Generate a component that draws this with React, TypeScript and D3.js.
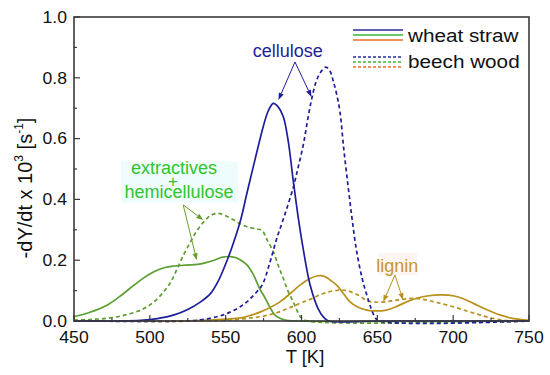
import React from "react";
import * as d3 from "d3";

// ---------- data (T in K, -dY/dt x 10^3 in s^-1) ----------
const wheatCelluloseT = [450, 480, 494, 505, 516, 525, 533.5, 540, 545, 551, 556, 560, 564, 569.3, 574.8, 578, 581.4, 584.5, 588, 591.3, 594.6, 598, 601.2, 605.6, 611, 615, 618, 650, 750];
const wheatCelluloseV = [0, 0, 0.002, 0.008, 0.02, 0.038, 0.063, 0.09, 0.13, 0.2, 0.27, 0.335, 0.42, 0.53, 0.64, 0.69, 0.716, 0.705, 0.672, 0.59, 0.46, 0.335, 0.235, 0.12, 0.04, 0.01, 0, 0, 0];

const beechCelluloseT = [450, 525, 533.5, 545, 551, 558, 564, 569, 574, 579, 583.6, 589, 594.6, 598, 601.2, 604, 606.7, 609.5, 612.2, 616.1, 619, 620.9, 623, 625.3, 628, 630.8, 633.5, 636.4, 640, 643, 646, 648.5, 651, 750];
const beechCelluloseV = [0, 0, 0.004, 0.015, 0.025, 0.042, 0.063, 0.088, 0.118, 0.19, 0.27, 0.35, 0.44, 0.51, 0.58, 0.66, 0.73, 0.785, 0.815, 0.835, 0.82, 0.79, 0.75, 0.69, 0.56, 0.44, 0.33, 0.228, 0.14, 0.086, 0.04, 0.012, 0, 0];

const wheatHemiT = [450, 460, 472, 480, 489.6, 496, 502.7, 510, 516, 524, 531.3, 537, 542.3, 548, 553.3, 557, 560, 564.2, 568, 572.6, 575.5, 579.2, 582, 585.8, 590, 595, 750];
const wheatHemiV = [0.014, 0.028, 0.053, 0.08, 0.118, 0.142, 0.162, 0.176, 0.181, 0.184, 0.186, 0.192, 0.2, 0.21, 0.212, 0.208, 0.2, 0.184, 0.155, 0.105, 0.08, 0.045, 0.022, 0.009, 0.002, 0, 0];

const beechHemiT = [450, 460, 472, 484, 494, 502, 509.3, 514, 518.1, 522, 526.9, 531, 535.7, 540, 544.5, 549, 555.5, 560, 564.2, 570, 574, 577, 581.4, 584.5, 588, 591, 594.6, 597, 600, 604, 750];
const beechHemiV = [0.003, 0.005, 0.009, 0.02, 0.036, 0.06, 0.097, 0.13, 0.173, 0.215, 0.261, 0.297, 0.327, 0.347, 0.354, 0.348, 0.332, 0.318, 0.31, 0.303, 0.298, 0.27, 0.228, 0.185, 0.14, 0.1, 0.063, 0.035, 0.01, 0, 0];

const wheatLigninT = [450, 520, 540, 550, 560, 566, 573, 585.8, 592, 599, 605, 610, 613, 616, 618.8, 623.2, 628, 632, 637, 643, 649.5, 656, 662, 669.3, 676, 684, 691.3, 697, 704, 713.3, 722, 730.8, 740, 748.4, 750];
const wheatLigninV = [0, 0, 0.003, 0.006, 0.01, 0.018, 0.03, 0.063, 0.088, 0.118, 0.138, 0.148, 0.149, 0.145, 0.135, 0.118, 0.088, 0.063, 0.046, 0.036, 0.033, 0.036, 0.046, 0.063, 0.075, 0.083, 0.086, 0.085, 0.078, 0.058, 0.038, 0.02, 0.008, 0.003, 0.002];

const beechLigninT = [450, 540, 555, 565, 572.6, 580, 585.8, 592, 599, 606, 612.2, 618.8, 625.4, 630, 634, 638.6, 643, 648, 655, 662, 669.3, 676, 682.5, 690, 700, 709, 717.6, 725, 733, 740, 750];
const beechLigninV = [0, 0, 0.004, 0.009, 0.014, 0.022, 0.031, 0.043, 0.058, 0.072, 0.086, 0.097, 0.102, 0.1, 0.093, 0.082, 0.067, 0.062, 0.063, 0.068, 0.073, 0.074, 0.069, 0.06, 0.047, 0.033, 0.02, 0.01, 0.003, 0, 0];

const xTicks = [450, 500, 550, 600, 650, 700, 750];
const yTicks = [0, 0.2, 0.4, 0.6, 0.8, 1.0];
const legendLabels = ["wheat straw", "beech wood"];

// ---------- styling ----------
const W = 550, H = 375;
const BLUE = "#1e1e9a";
const GREEN = "#5c9e30";
const GOLD = "#b8901c";
const FONT = "'Liberation Sans', Arial, sans-serif";

const x = d3.scaleLinear().domain([450, 750]).range([74, 529]);
const y = d3.scaleLinear().domain([0, 1]).range([321, 17]);

const line = d3
  .line<[number, number]>()
  .x((d) => x(d[0]))
  .y((d) => Math.min(y(d[1]), y(0)))
  .curve(d3.curveCatmullRom.alpha(0.5));

const zip = (a: number[], b: number[]) => a.map((t, i) => [t, b[i]] as [number, number]);

const series = [
  { T: wheatHemiT, V: wheatHemiV, color: GREEN, dash: null },
  { T: beechHemiT, V: beechHemiV, color: GREEN, dash: "4,3" },
  { T: wheatLigninT, V: wheatLigninV, color: GOLD, dash: null },
  { T: beechLigninT, V: beechLigninV, color: GOLD, dash: "4,3" },
  { T: wheatCelluloseT, V: wheatCelluloseV, color: BLUE, dash: null },
  { T: beechCelluloseT, V: beechCelluloseV, color: BLUE, dash: "4,3" },
];

function SText(props: {
  x: number;
  y: number;
  sx?: number;
  anchor?: string;
  size: number;
  fill?: string;
  dy?: string;
  children: React.ReactNode;
}) {
  const { sx = 1, anchor = "start", size, fill = "#111", dy } = props;
  return (
    <text
      transform={`translate(${props.x},${props.y}) scale(${sx},1)`}
      textAnchor={anchor}
      fontSize={size}
      fill={fill}
      fontFamily={FONT}
      dy={dy}
    >
      {props.children}
    </text>
  );
}

function Arrow({ x1, y1, x2, y2, color }: { x1: number; y1: number; x2: number; y2: number; color: string }) {
  const ang = Math.atan2(y2 - y1, x2 - x1);
  const L = 7, w = 2.6;
  const bx = x2 - L * Math.cos(ang), by = y2 - L * Math.sin(ang);
  const px = -Math.sin(ang) * w, py = Math.cos(ang) * w;
  return (
    <g>
      <line x1={x1} y1={y1} x2={bx} y2={by} stroke={color} strokeWidth={1} />
      <path d={`M${x2},${y2}L${bx + px},${by + py}L${bx - px},${by - py}Z`} fill={color} />
    </g>
  );
}

export default function App() {
  const xMinor = d3.range(475, 750, 50);
  const yMinor = d3.range(0.1, 1.0, 0.2);
  return (
    <svg
      width={W}
      height={H}
      style={{ position: "fixed", left: 0, top: 0, background: "#fff" }}
    >
      <rect x={0} y={0} width={W} height={H} fill="#fff" />
      {/* faint label backgrounds */}
      <rect x={x(481)} y={y(0.525)} width={x(558) - x(481)} height={y(0.39) - y(0.525)} fill="#effcfc" />
      <rect x={x(651)} y={y(0.225)} width={x(676) - x(651)} height={y(0.15) - y(0.225)} fill="#fdf4f4" />

      {/* curves */}
      {series.map((s, i) => (
        <path
          key={i}
          d={line(zip(s.T, s.V)) || ""}
          fill="none"
          stroke={s.color}
          strokeWidth={1.7}
          strokeDasharray={s.dash || undefined}
        />
      ))}

      {/* frame */}
      <rect x={x(450)} y={y(1)} width={x(750) - x(450)} height={y(0) - y(1)} fill="none" stroke="#3a3a3a" strokeWidth={1.6} />

      {/* x ticks */}
      {xTicks.map((t) => (
        <g key={"xt" + t}>
          <line x1={x(t)} x2={x(t)} y1={y(0)} y2={y(0) - 6} stroke="#3a3a3a" strokeWidth={1.2} />
          <SText x={x(t)} y={343} anchor="middle" size={16} sx={1.1}>
            {String(t)}
          </SText>
        </g>
      ))}
      {xMinor.map((t) => (
        <line key={"xm" + t} x1={x(t)} x2={x(t)} y1={y(0)} y2={y(0) - 3} stroke="#3a3a3a" strokeWidth={1.2} />
      ))}
      {/* y ticks */}
      {yTicks.map((v) => (
        <g key={"yt" + v}>
          <line x1={x(450)} x2={x(450) + 6} y1={y(v)} y2={y(v)} stroke="#3a3a3a" strokeWidth={1.2} />
          <SText x={67} y={y(v)} anchor="end" size={16} sx={1.1} dy="0.36em">
            {v.toFixed(1)}
          </SText>
        </g>
      ))}
      {yMinor.map((v) => (
        <line key={"ym" + v} x1={x(450)} x2={x(450) + 3} y1={y(v)} y2={y(v)} stroke="#3a3a3a" strokeWidth={1.2} />
      ))}

      {/* axis titles */}
      <text x={305} y={363} textAnchor="middle" fontSize={18.5} fontFamily={FONT} fill="#111">
        T [K]
      </text>
      <text
        transform="translate(32,188) rotate(-90)"
        textAnchor="middle"
        fontSize={20}
        fontFamily={FONT}
        fill="#111"
      >
        -dY/dt x 10
        <tspan fontSize={12} dy={-9}>3</tspan>
        <tspan dy={9}> [s</tspan>
        <tspan fontSize={12} dy={-9}>-1</tspan>
        <tspan dy={9}>]</tspan>
      </text>

      {/* legend */}
      {[
        { c: "#2a2aa0", yy: 30 },
        { c: "#3cb43c", yy: 35 },
        { c: "#e8702a", yy: 40 },
      ].map((l) => (
        <line key={"ls" + l.yy} x1={353} x2={403} y1={l.yy} y2={l.yy} stroke={l.c} strokeWidth={1.6} />
      ))}
      {[
        { c: "#2a2aa0", yy: 57 },
        { c: "#3cb43c", yy: 62 },
        { c: "#e8702a", yy: 67 },
      ].map((l) => (
        <line key={"ld" + l.yy} x1={353} x2={403} y1={l.yy} y2={l.yy} stroke={l.c} strokeWidth={1.6} strokeDasharray="3,2" />
      ))}
      <SText x={408} y={42} size={18.5} sx={1.12}>{legendLabels[0]}</SText>
      <SText x={408} y={68} size={18.5} sx={1.12}>{legendLabels[1]}</SText>

      {/* annotations */}
      <text x={x(591)} y={y(0.868)} textAnchor="middle" fontSize={18} fontFamily={FONT} fill={BLUE}>
        cellulose
      </text>
      <Arrow x1={x(595.7)} y1={y(0.852)} x2={x(584.8)} y2={y(0.727)} color={BLUE} />
      <Arrow x1={x(595.7)} y1={y(0.852)} x2={x(606.6)} y2={y(0.737)} color={BLUE} />

      <text x={x(515.9)} y={y(0.482)} textAnchor="middle" fontSize={18} fontFamily={FONT} fill="#2ec42e">
        extractives
      </text>
      <text x={x(515.3)} y={y(0.441)} textAnchor="middle" fontSize={17} fontFamily={FONT} fill="#2ec42e">
        +
      </text>
      <text x={x(519.2)} y={y(0.403)} textAnchor="middle" fontSize={18} fontFamily={FONT} fill="#2ec42e">
        hemicellulose
      </text>
      <Arrow x1={x(522)} y1={y(0.382)} x2={x(535.2)} y2={y(0.332)} color="#6a9e2a" />
      <Arrow x1={x(522)} y1={y(0.382)} x2={x(530.9)} y2={y(0.2)} color="#6a9e2a" />

      <text x={x(663.2)} y={y(0.162)} textAnchor="middle" fontSize={18} fontFamily={FONT} fill="#c4982a">
        lignin
      </text>
      <Arrow x1={x(661.6)} y1={y(0.151)} x2={x(653.9)} y2={y(0.063)} color={GOLD} />
      <Arrow x1={x(661.6)} y1={y(0.151)} x2={x(667)} y2={y(0.069)} color={GOLD} />
    </svg>
  );
}
